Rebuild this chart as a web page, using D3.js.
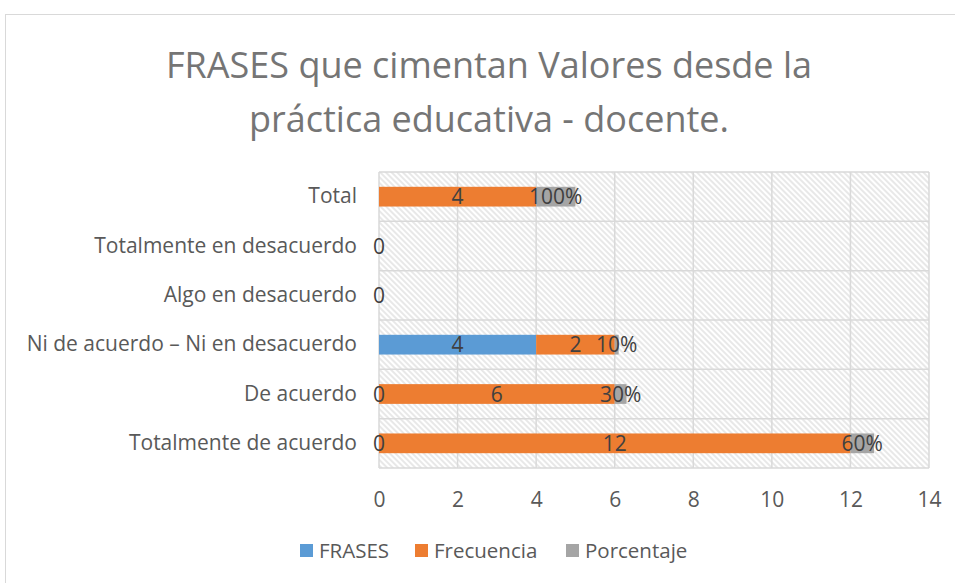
<!DOCTYPE html>
<html>
<head>
<meta charset="utf-8">
<script src="https://cdn.jsdelivr.net/npm/d3@7"></script>
<style>
  body { margin: 0; background: #fff; }
  svg { display: block; font-family: "Open Sans", "Noto Sans", sans-serif; }
</style>
</head>
<body>
<svg id="chart" width="955" height="583"></svg>
<script>
// values
const categories = [
    "Totalmente de acuerdo",
    "De acuerdo",
    "Ni de acuerdo – Ni en desacuerdo",
    "Algo en desacuerdo",
    "Totalmente en desacuerdo",
    "Total"
];
const frases = [0, 0, 4, 0, 0, null];
const frecuencia = [12, 6, 2, null, null, 4];
const porcentaje = [0.6, 0.3, 0.1, null, null, 1];
const seriesNames = ["FRASES", "Frecuencia", "Porcentaje"];
const seriesColors = ["#5B9BD5", "#ED7D31", "#A5A5A5"];
const xTicks = [0, 2, 4, 6, 8, 10, 12, 14];

const rows = categories.map((c, i) => ({
    cat: c,
    FRASES: frases[i],
    Frecuencia: frecuencia[i],
    Porcentaje: porcentaje[i]
}));

const svg = d3.select("#chart");
const plot = { left: 379, right: 929, top: 172, bottom: 468 };

// chart frame
svg.append("rect")
    .attr("x", 5.5).attr("y", 14.5)
    .attr("width", 970).attr("height", 600)
    .attr("fill", "#fff").attr("stroke", "#d9d9d9");

// title
const title = svg.append("text")
    .attr("text-anchor", "middle")
    .attr("fill", "#757575")
    .attr("font-family", "'Open Sans', sans-serif")
    .attr("font-size", 36);
title.append("tspan").attr("x", 489).attr("y", 78).text("FRASES que cimentan Valores desde la");
title.append("tspan").attr("x", 489).attr("y", 132).text("práctica educativa - docente.");

const x = d3.scaleLinear().domain([0, 14]).range([plot.left, plot.right]);
const y = d3.scaleBand()
    .domain(categories.slice().reverse())
    .range([plot.top, plot.bottom])
    .paddingInner(0.6).paddingOuter(0.3);

// hatched plot background
const defs = svg.append("defs");
const pat = defs.append("pattern")
    .attr("id", "hatch")
    .attr("patternUnits", "userSpaceOnUse")
    .attr("width", 4).attr("height", 4)
    .attr("patternTransform", "rotate(45)");
pat.append("line")
    .attr("x1", 0).attr("y1", 1).attr("x2", 4).attr("y2", 1)
    .attr("stroke", "#d9d9d9").attr("stroke-width", 1.2);

svg.append("rect")
    .attr("x", plot.left).attr("y", plot.top)
    .attr("width", plot.right - plot.left).attr("height", plot.bottom - plot.top)
    .attr("fill", "url(#hatch)");

// gridlines
const grid = svg.append("g").attr("stroke", "#d9d9d9").attr("stroke-width", 1.5);
xTicks.forEach(t => {
    grid.append("line")
        .attr("x1", x(t)).attr("x2", x(t))
        .attr("y1", plot.top).attr("y2", plot.bottom);
});
d3.range(categories.length + 1).forEach(i => {
    const yy = plot.top + i * (plot.bottom - plot.top) / categories.length;
    grid.append("line")
        .attr("x1", plot.left).attr("x2", plot.right)
        .attr("y1", yy).attr("y2", yy);
});

// stacked bars
const stacked = d3.stack()
    .keys(seriesNames)
    .value((d, k) => d[k] == null ? 0 : d[k])(rows);

const layers = svg.append("g").selectAll("g")
    .data(stacked)
    .join("g")
    .attr("fill", (d, i) => seriesColors[i]);

layers.selectAll("rect")
    .data(d => d)
    .join("rect")
    .attr("x", d => x(d[0]))
    .attr("width", d => x(d[1]) - x(d[0]))
    .attr("y", d => y(d.data.cat))
    .attr("height", y.bandwidth());

// data labels
const fmtPct = d3.format(".0%");
const labels = svg.append("g")
    .attr("font-size", 21)
    .attr("fill", "#404040")
    .attr("text-anchor", "middle")
    .attr("font-family", "'Open Sans', sans-serif");
stacked.forEach(layer => {
    layer.forEach(d => {
        const v = d.data[layer.key];
        if (v == null) return;
        labels.append("text")
            .attr("x", x((d[0] + d[1]) / 2))
            .attr("y", y(d.data.cat) + y.bandwidth() / 2)
            .attr("dy", "0.36em")
            .text(layer.key === "Porcentaje" ? fmtPct(v) : v);
    });
});

// x axis labels
const xAxis = svg.append("g")
    .attr("transform", `translate(0,${plot.bottom})`)
    .call(d3.axisBottom(x).tickValues(xTicks).tickSize(0).tickPadding(24));
xAxis.select(".domain").remove();
xAxis.selectAll("text")
    .attr("font-size", 21)
    .attr("fill", "#595959")
    .attr("font-family", "'Open Sans', sans-serif");

// y axis labels
const yAxis = svg.append("g")
    .attr("transform", `translate(${plot.left},0)`)
    .call(d3.axisLeft(y).tickSize(0).tickPadding(22));
yAxis.select(".domain").remove();
yAxis.selectAll("text")
    .attr("font-size", 21)
    .attr("fill", "#595959")
    .attr("font-family", "'Open Sans', sans-serif");

// legend
const legendX = [300, 415, 566];
const legend = svg.append("g");
seriesNames.forEach((name, i) => {
    const g = legend.append("g").attr("transform", `translate(${legendX[i]},551)`);
    g.append("rect")
        .attr("x", 0).attr("y", -7)
        .attr("width", 13).attr("height", 13)
        .attr("fill", seriesColors[i]);
    g.append("text")
        .attr("x", 19).attr("y", 0)
        .attr("dy", "0.35em")
        .attr("font-size", 20.5)
        .attr("fill", "#595959")
        .attr("font-family", "'Open Sans', sans-serif")
        .text(name);
});
</script>
</body>
</html>
